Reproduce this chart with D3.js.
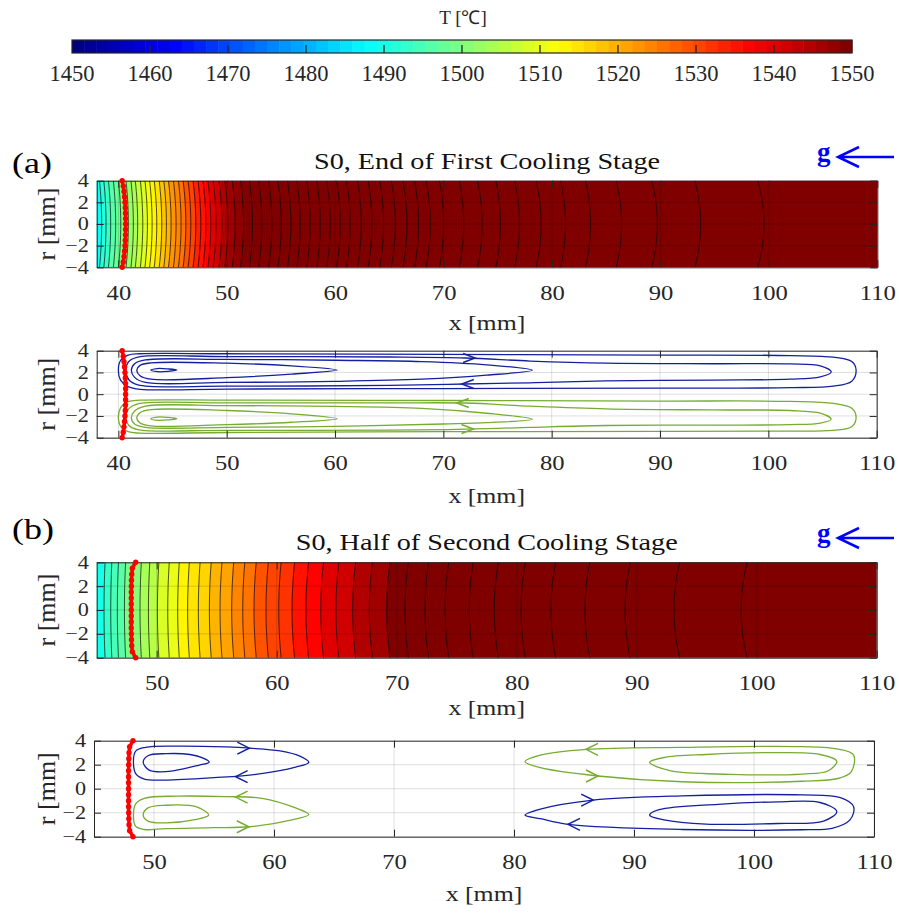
<!DOCTYPE html>
<html>
<head>
<meta charset="utf-8">
<script src="https://cdn.jsdelivr.net/npm/d3@7"></script>
<style>
  body { margin: 0; background: #fff; }
  text { font-family: "Liberation Serif", "Times New Roman", serif; }
</style>
</head>
<body>
<div id="fig"></div>
<script>
// ---- data ----
let cbTicks = [1450, 1460, 1470, 1480, 1490, 1500, 1510, 1520, 1530, 1540, 1550];
let xTicksA = [40, 50, 60, 70, 80, 90, 100, 110];
let xTicksB = [50, 60, 70, 80, 90, 100, 110];
let rTicks = [-4, -2, 0, 2, 4];

// isotherms (a): x position on the axis r=0 [mm] and level [C]
let isoXA = [38.46, 38.86, 39.29, 39.75, 40.22, 40.92, 41.38, 41.78, 42.25, 42.68,
             43.11, 43.54, 44.0, 44.43, 44.86, 45.32, 45.78, 46.22, 46.68, 47.14,
             47.6, 48.06, 48.52, 49.0, 49.54, 50.09, 50.77, 51.54, 52.37, 53.23,
             54.15, 55.02, 55.91, 56.77, 57.69, 58.62, 59.54, 60.46, 61.38, 62.4,
             63.38, 64.46, 65.54, 66.62, 67.69, 68.77, 70.0, 71.85, 73.55, 75.24,
             76.99, 78.99, 81.24, 83.55, 86.41, 89.71, 93.71, 99.55];
let isoTA = [1489.0, 1491.2, 1493.4, 1495.6, 1497.8, 1500.0, 1502.2, 1504.4, 1506.6, 1508.8,
             1511.0, 1513.2, 1515.4, 1517.6, 1519.8, 1522.0, 1524.2, 1526.4, 1528.6, 1530.8,
             1533.0, 1535.2, 1537.4, 1539.6, 1541.8, 1544.0, 1546.2, 1548.4, 1550.6, 1552.8,
             1555.0, 1557.2, 1559.4, 1561.6, 1563.8, 1566.0, 1568.2, 1570.4, 1572.6, 1574.8,
             1577.0, 1579.2, 1581.4, 1583.6, 1585.8, 1588.0, 1590.2, 1592.4, 1594.6, 1596.8,
             1599.0, 1601.2, 1603.4, 1605.6, 1607.8, 1610.0, 1612.2, 1614.4];

// isotherms (b)
let isoXB = [45.61, 46.17, 46.72, 47.31, 47.94, 48.61, 49.31, 50.06, 50.92, 51.75,
             52.58, 53.47, 54.39, 55.28, 56.25, 57.17, 58.11, 59.11, 60.17, 61.28,
             62.44, 63.67, 64.94, 66.33, 67.72, 69.17, 70.69, 72.36, 74.03, 76.05,
             78.13, 80.36, 82.86, 85.69, 89.03, 93.11, 98.7];
let isoTB = [1490, 1492.25, 1494.5, 1496.75, 1499, 1501.25, 1503.5, 1505.75, 1508, 1510.25,
             1512.5, 1514.75, 1517, 1519.25, 1521.5, 1523.75, 1526, 1528.25, 1530.5, 1532.75,
             1535, 1537.25, 1539.5, 1541.75, 1544, 1546.25, 1548.5, 1550.75, 1553, 1555.25,
             1557.5, 1559.75, 1562, 1564.25, 1566.5, 1568.75, 1571];

// solidification front (red markers)
let frontR  = [-4, -3.5, -3, -2.5, -2, -1.5, -1, -0.5, 0, 0.5, 1, 1.5, 2, 2.5, 3, 3.5, 4];
let frontXA = [40.35, 40.45, 40.52, 40.57, 40.61, 40.64, 40.66, 40.67, 40.67, 40.67, 40.66, 40.64, 40.61, 40.57, 40.52, 40.45, 40.35];
let frontXB = [48.25, 47.97, 47.92, 47.9, 47.89, 47.88, 47.88, 47.88, 47.88, 47.88, 47.88, 47.88, 47.89, 47.9, 47.92, 47.97, 48.25];

// streamlines (a), [x, r]
let streamBlueA = [
  [[40.0,2.2],[40.2,3.1],[40.9,3.6],[42,3.72],[50,3.72],[70,3.66],[90,3.6],[102,3.55],[106,3.4],[107.7,3.0],[108.1,2.2],[107.7,1.2],[106,0.75],[102,0.6],[90,0.55],[70,0.52],[50,0.47],[42,0.45],[40.9,0.7],[40.2,1.3]],
  [[40.7,2.2],[40.95,3.0],[41.8,3.42],[50,3.45],[65,3.42],[72,3.33],[78,3.05],[85,2.85],[95,2.8],[102,2.78],[104.8,2.6],[105.8,2.05],[104.8,1.6],[102,1.38],[95,1.3],[85,1.22],[78,1.05],[72,0.94],[65,0.82],[50,0.74],[41.8,0.85],[40.95,1.35]],
  [[41.2,2.2],[41.5,2.8],[42.5,3.15],[50,3.2],[60,3.12],[68,3.0],[74,2.7],[78.2,2.2],[74,1.75],[68,1.38],[60,1.18],[50,1.08],[42.5,1.08],[41.5,1.55]],
  [[41.7,2.2],[42.0,2.65],[43,2.88],[50,2.85],[56,2.6],[60.2,2.22],[56,1.85],[50,1.52],[43,1.38],[42,1.7]],
  [[43.0,2.22],[43.6,2.36],[44.6,2.32],[45.4,2.22],[44.6,2.1],[43.6,2.07]]
];
let streamGreenA = [
  [[40.0,-2.2],[40.2,-1.25],[40.9,-0.68],[42,-0.55],[50,-0.55],[70,-0.58],[90,-0.63],[102,-0.66],[106,-0.85],[107.7,-1.3],[108.1,-2.15],[107.7,-3.0],[106,-3.32],[102,-3.4],[90,-3.42],[70,-3.45],[50,-3.52],[42,-3.58],[40.9,-3.45],[40.2,-2.95]],
  [[40.7,-2.2],[40.95,-1.35],[41.8,-0.88],[50,-0.8],[65,-0.8],[72,-0.81],[78,-1.1],[85,-1.35],[95,-1.45],[102,-1.5],[104.8,-1.75],[105.8,-2.3],[104.8,-2.65],[102,-2.8],[95,-2.84],[85,-2.88],[78,-3.05],[72,-3.22],[65,-3.3],[50,-3.32],[41.8,-3.25],[40.95,-2.85]],
  [[41.2,-2.2],[41.5,-1.55],[42.5,-1.1],[50,-1.05],[60,-1.12],[68,-1.3],[74,-1.75],[78.2,-2.3],[74,-2.62],[70,-2.74],[60,-2.95],[50,-3.05],[42.5,-3.05],[41.5,-2.75]],
  [[41.7,-2.2],[42.0,-1.7],[43,-1.42],[50,-1.5],[56,-1.8],[60.2,-2.25],[56,-2.58],[50,-2.8],[43,-2.92],[42,-2.65]],
  [[43.0,-2.25],[43.6,-2.1],[44.6,-2.14],[45.4,-2.25],[44.6,-2.36],[43.6,-2.4]]
];

// streamlines (b), [x, r]
let streamBlueB = [
  [[48.45,1.3],[48.45,3.1],[49.3,3.45],[52,3.55],[56,3.48],[58,3.38],[60.5,3.15],[62.2,2.7],[62.9,2.2],[61.8,1.8],[58.5,1.2],[55,0.92],[51,0.72],[49.2,0.8]],
  [[49.1,2.2],[49.5,2.75],[51,2.92],[53,2.85],[54.1,2.55],[54.6,2.22],[53.7,1.95],[51,1.42],[49.6,1.55]],
  [[80.92,-2.2],[82.2,-1.7],[86.6,-0.95],[94,-0.6],[104,-0.52],[107.2,-0.75],[108.3,-1.5],[108,-2.6],[106.5,-3.3],[104,-3.42],[94,-3.4],[84.5,-2.97],[82.2,-2.5]],
  [[91.3,-2.2],[92.1,-1.75],[97,-1.3],[102,-1.1],[105.5,-1.15],[106.9,-1.9],[105.8,-2.7],[102,-2.9],[96,-2.95],[92.5,-2.6]]
];
let streamGreenB = [
  [[48.45,-1.3],[49.2,-0.8],[52,-0.62],[56,-0.66],[59,-0.8],[61.8,-1.6],[62.9,-2.15],[61.5,-2.6],[58,-3.17],[55,-3.25],[51,-3.32],[49.2,-3.4],[48.45,-3.1]],
  [[49.1,-2.2],[49.5,-1.6],[51,-1.38],[53.5,-1.5],[54.55,-2.2],[53.3,-2.6],[51,-2.85],[49.5,-2.7]],
  [[80.92,2.25],[82.2,2.8],[86,3.28],[94,3.45],[104,3.5],[107,3.3],[108.3,2.8],[108.1,1.4],[107,0.85],[104,0.62],[94,0.58],[87,1.06],[82.2,1.75]],
  [[91.3,2.2],[92.5,2.6],[96,2.85],[102,3.0],[105.5,2.85],[106.9,2.3],[106.2,1.5],[104,1.22],[98,1.2],[93,1.5]]
];

// flow arrows: [x tip, r, direction(+1 right, -1 left)]
let arrowsBlueA  = [[72.93, 3.33, 1], [71.7, 0.94, -1]];
let arrowsGreenA = [[71.24, -0.81, -1], [72.78, -3.2, 1]];
let arrowsBlueB  = [[57.94, 3.38, 1], [56.8, 1.0, -1], [86.6, -0.95, 1], [84.5, -2.97, -1]];
let arrowsGreenB = [[56.8, -0.7, -1], [57.9, -3.17, 1], [86.0, 3.28, -1], [87.0, 1.06, 1]];

// ---- drawing ----
const svg = d3.select("#fig").append("svg").attr("width", 899).attr("height", 913);
const axisCol = "#262626";
const blue = "#1420a0", green = "#77ac30";
const sx = 1.2;   // the subplot lettering is stretched sideways in the figure

function jet(t) {
  t = Math.max(0, Math.min(1, t));
  const c = v => Math.round(255 * Math.max(0, Math.min(1, v)));
  return "rgb(" + c(1.5 - Math.abs(4*t - 3)) + "," + c(1.5 - Math.abs(4*t - 2)) + "," + c(1.5 - Math.abs(4*t - 1)) + ")";
}
const tNorm = d3.scaleLinear().domain([1450, 1550]).range([0, 1]).clamp(true);
function colorOf(T) {
  let i = Math.min(63, Math.floor(tNorm(T) * 64));
  return jet(i / 63);
}

function stext(x, y, str, size, anchor) {
  return svg.append("text")
    .attr("transform", "translate(" + x + "," + y + ") scale(" + sx + ",1)")
    .attr("text-anchor", anchor || "middle")
    .style("font-size", size + "px")
    .attr("fill", axisCol)
    .text(str);
}

// colorbar
let cbX = d3.scaleLinear().domain([1450, 1550]).range([72, 852]);
let cbCells = d3.range(64);
svg.append("g").selectAll("rect")
  .data(cbCells)
  .enter().append("rect")
    .attr("x", d => cbX(1450 + d*100/64))
    .attr("y", 40)
    .attr("width", 780/64 + 0.5)
    .attr("height", 13)
    .attr("fill", d => jet(d/63));
svg.append("rect").attr("x", 72).attr("y", 40).attr("width", 780).attr("height", 13)
  .attr("fill", "none").attr("stroke", axisCol).attr("stroke-width", 1.2);
svg.append("g").selectAll("line")
  .data(cbTicks.slice(1, -1))
  .enter().append("line")
    .attr("x1", d => cbX(d)).attr("x2", d => cbX(d))
    .attr("y1", 53).attr("y2", 45)
    .attr("stroke", axisCol).attr("stroke-width", 1.3);
svg.append("g").selectAll("text")
  .data(cbTicks)
  .enter().append("text")
    .attr("x", d => cbX(d)).attr("y", 81)
    .attr("text-anchor", "middle")
    .style("font-size", "22.5px").attr("fill", axisCol)
    .text(d => d);
svg.append("text").attr("x", 463).attr("y", 24).attr("text-anchor", "middle")
  .style("font-size", "19px").attr("fill", axisCol).text("T [\u2103]");

// panels
let boxA1 = {l: 96.7, r: 877.3, t: 180.7, b: 267.3};
let boxA2 = {l: 96.7, r: 876.7, t: 350.7, b: 437.7};
let boxB1 = {l: 96.7, r: 876.7, t: 562.3, b: 657.7};
let boxB2 = {l: 94,   r: 874,   t: 740.7, b: 836.7};

let clipN = 0;
function makePanel(box, xDom) {
  let x = d3.scaleLinear().domain(xDom).range([box.l, box.r]);
  let y = d3.scaleLinear().domain([-4, 4]).range([box.b, box.t]);
  let id = "clip" + (clipN++);
  svg.append("clipPath").attr("id", id).append("rect")
    .attr("x", box.l).attr("y", box.t).attr("width", box.r - box.l).attr("height", box.b - box.t);
  let g = svg.append("g").attr("clip-path", "url(#" + id + ")");
  return {x, y, g, box};
}

function grid(p, ticks, col) {
  let gg = p.g.append("g").attr("stroke", col).attr("stroke-width", 1);
  gg.selectAll(".gx").data(ticks).enter().append("line")
    .attr("x1", d => p.x(d)).attr("x2", d => p.x(d)).attr("y1", p.box.t).attr("y2", p.box.b);
  gg.selectAll(".gy").data(rTicks).enter().append("line")
    .attr("y1", d => p.y(d)).attr("y2", d => p.y(d)).attr("x1", p.box.l).attr("x2", p.box.r);
}

function frame(p, ticks, xlabBase) {
  let b = p.box;
  let styleAxis = (sel, fs) => {
    sel.attr("font-family", "Liberation Serif, Times New Roman, serif").attr("font-size", fs);
    sel.selectAll("path.domain").attr("stroke", axisCol);
    sel.selectAll(".tick line").attr("stroke", axisCol);
    sel.selectAll("text").attr("fill", axisCol).attr("transform", "scale(" + sx + ",1)");
  };
  svg.append("g").attr("transform", "translate(0," + b.b + ")")
    .call(d3.axisBottom(p.x).tickValues(ticks).tickSize(-7).tickSizeOuter(0).tickPadding(18))
    .call(styleAxis, 20.5);
  svg.append("g").attr("transform", "translate(0," + b.t + ")")
    .call(d3.axisTop(p.x).tickValues(ticks).tickSize(-7).tickSizeOuter(0).tickFormat(""))
    .call(styleAxis, 20.5);
  svg.append("g").attr("transform", "translate(" + b.l + ",0)")
    .call(d3.axisLeft(p.y).tickValues(rTicks).tickSize(-7).tickSizeOuter(0).tickPadding(6.5))
    .call(styleAxis, 18.5);
  svg.append("g").attr("transform", "translate(" + b.r + ",0)")
    .call(d3.axisRight(p.y).tickValues(rTicks).tickSize(-7).tickSizeOuter(0).tickFormat(""))
    .call(styleAxis, 18.5);
  stext((b.l + b.r) / 2, xlabBase, "x [mm]", 21.5);
  svg.append("text")
    .attr("transform", "translate(55," + ((b.t + b.b) / 2) + ") rotate(-90)")
    .attr("text-anchor", "middle").style("font-size", "26px").attr("fill", axisCol).text("r [mm]");
}

// isotherm contour plot; bowSign +1 bulges to +x on the axis, -1 to -x
let rSamp = d3.range(-4, 4.001, 0.5);
function contourPlot(p, isoX, isoT, bowSign, bow0, bowK) {
  let x0 = p.x.domain()[0];
  let curve = xc => {
    let bw = bow0 + (xc - x0) * bowK;
    return rSamp.map(r => [xc - bowSign * bw * (r/4) * (r/4), r]);
  };
  let line = d3.line().x(d => p.x(d[0])).y(d => p.y(d[1]));
  let step = isoT[1] - isoT[0];
  let n = isoX.length;
  let bands = [];
  for (let i = -1; i < n; i++) {
    let left = i < 0 ? rSamp.map(r => [p.x.domain()[0] - 1, r]) : curve(isoX[i]);
    let right = i === n - 1 ? rSamp.map(r => [p.x.domain()[1] + 1, r]) : curve(isoX[i + 1]);
    let T = i === n - 1 ? isoT[n - 1] + step : isoT[i + 1];
    bands.push({pts: left.concat(right.slice().reverse()), T: T});
  }
  p.g.append("g").selectAll("path").data(bands).enter().append("path")
    .attr("d", d => line(d.pts) + "Z")
    .attr("fill", d => colorOf(d.T))
    .attr("stroke", d => colorOf(d.T)).attr("stroke-width", 0.6);
  p.g.append("g").selectAll("path").data(isoX).enter().append("path")
    .attr("d", d => line(curve(d)))
    .attr("fill", "none").attr("stroke", "#000").attr("stroke-width", 0.8).attr("stroke-opacity", 0.85);
}

function front(p, fx) {
  let pts = frontR.map((r, i) => [fx[i], r]);
  let line = d3.line().x(d => p.x(d[0])).y(d => p.y(d[1]));
  svg.append("path").attr("d", line(pts)).attr("fill", "none")
    .attr("stroke", "#ff0000").attr("stroke-width", 3.5);
  svg.append("g").selectAll("circle").data(pts).enter().append("circle")
    .attr("cx", d => p.x(d[0])).attr("cy", d => p.y(d[1])).attr("r", 2.7).attr("fill", "#ff0000");
}

function streams(p, loops, arrows, col, ah) {
  let line = d3.line().x(d => p.x(d[0])).y(d => p.y(d[1])).curve(d3.curveCatmullRomClosed.alpha(0.5));
  p.g.append("g").selectAll("path").data(loops).enter().append("path")
    .attr("d", line).attr("fill", "none").attr("stroke", col).attr("stroke-width", 1.3);
  p.g.append("g").selectAll("path").data(arrows).enter().append("path")
    .attr("d", d => {
      let tx = p.x(d[0]), ty = p.y(d[1]);
      return "M" + (tx - d[2]*12) + "," + (ty - ah) + "L" + tx + "," + ty + "L" + (tx - d[2]*12) + "," + (ty + ah);
    })
    .attr("fill", "none").attr("stroke", col).attr("stroke-width", 1.5);
}

function title(text, box, base, tag, tagBase, gBase) {
  stext((box.l + box.r) / 2, base, text, 23.5).attr("fill", "#111");
  stext(12, tagBase, tag, 30, "start").attr("fill", "#000");
  svg.append("text").attr("x", 817).attr("y", gBase).style("font-size", "27px").style("font-weight", "bold")
    .attr("fill", "#0000ff").text("g");
  let ay = gBase - 4;
  svg.append("path")
    .attr("d", "M894," + ay + "L838," + ay + "M859," + (ay - 10) + "L838," + ay + "L859," + (ay + 10))
    .attr("fill", "none").attr("stroke", "#0000ff").attr("stroke-width", 2.5);
}

// (a)
let pA1 = makePanel(boxA1, [38, 110]);
contourPlot(pA1, isoXA, isoTA, 1, 0.2, 0.006);
grid(pA1, xTicksA, "rgba(0,0,0,0.15)");
frame(pA1, xTicksA, 330);
front(pA1, frontXA);
title("S0, End of First Cooling Stage", boxA1, 169, "(a)", 173, 161);

let pA2 = makePanel(boxA2, [38, 110]);
grid(pA2, xTicksA, "rgba(0,0,0,0.13)");
streams(pA2, streamBlueA, arrowsBlueA, blue, 4.5);
streams(pA2, streamGreenA, arrowsGreenA, green, 4.5);
frame(pA2, xTicksA, 503);
front(pA2, frontXA);

// (b)
let pB1 = makePanel(boxB1, [45, 110]);
contourPlot(pB1, isoXB, isoTB, -1, 0.08, 0.008);
grid(pB1, xTicksB, "rgba(0,0,0,0.15)");
frame(pB1, xTicksB, 715);
front(pB1, frontXB);
title("S0, Half of Second Cooling Stage", boxB1, 550, "(b)", 539, 542);

let pB2 = makePanel(boxB2, [45, 110]);
grid(pB2, xTicksB, "rgba(0,0,0,0.13)");
streams(pB2, streamBlueB, arrowsBlueB, blue, 6);
streams(pB2, streamGreenB, arrowsGreenB, green, 6);
frame(pB2, xTicksB, 901);
front(pB2, frontXB);
</script>
</body>
</html>
